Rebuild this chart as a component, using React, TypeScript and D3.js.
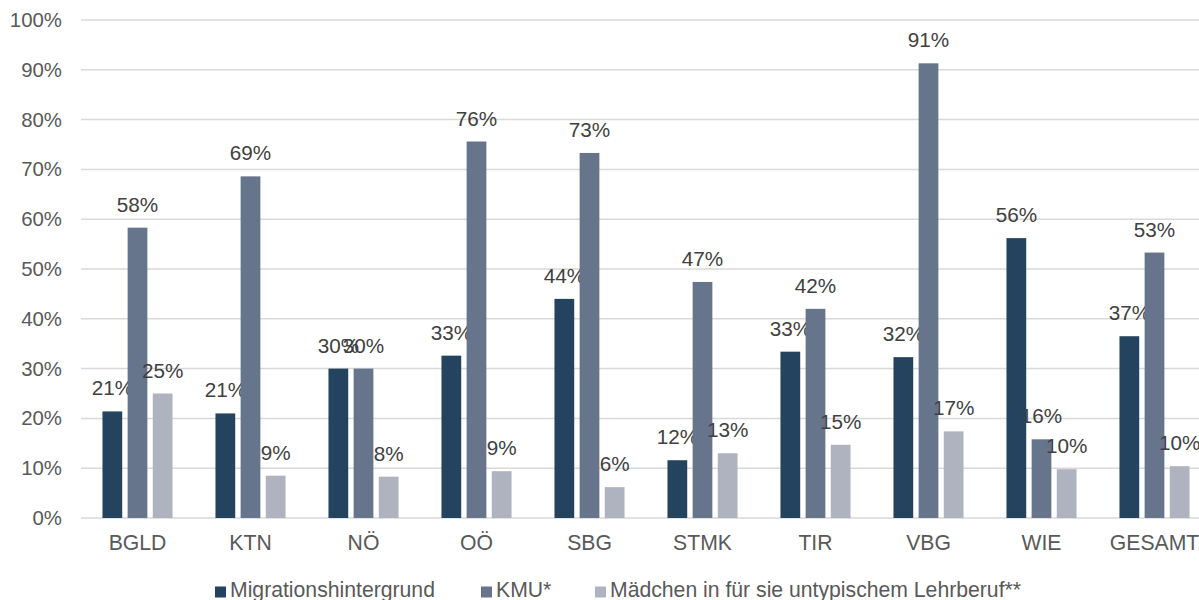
import React from "react";
import * as d3 from "d3";

const categories = ["BGLD", "KTN", "NÖ", "OÖ", "SBG", "STMK", "TIR", "VBG", "WIE", "GESAMT"];
const seriesNames = ["Migrationshintergrund", "KMU*", "Mädchen in für sie untypischem Lehrberuf**"];
const migration = [21.4, 21.0, 30.0, 32.6, 44.0, 11.6, 33.4, 32.3, 56.2, 36.5];
const kmu = [58.3, 68.6, 30.0, 75.6, 73.3, 47.4, 42.0, 91.3, 15.8, 53.3];
const maedchen = [25.0, 8.5, 8.3, 9.4, 6.2, 13.0, 14.7, 17.4, 9.8, 10.4];
const yTicks = [0, 10, 20, 30, 40, 50, 60, 70, 80, 90, 100];
const colors = ["#24435e", "#66758c", "#afb3c0"];

const W = 1199;
const H = 600;
const plotLeft = 81;
const plotRight = 81 + 1130;
const yTop = 20;
const yBottom = 518;
const font = "'Liberation Sans', Arial, sans-serif";
const legendX = [215, 481, 595];

export default function App() {
  const series = [migration, kmu, maedchen];
  const x0 = d3.scaleBand<string>().domain(categories).range([plotLeft, plotRight]).paddingInner(0.38).paddingOuter(0.19);
  const x1 = d3.scaleBand<number>().domain([0, 1, 2]).range([0, x0.bandwidth()]).paddingInner(0.215).paddingOuter(0);
  const y = d3.scaleLinear().domain([0, 100]).range([yBottom, yTop]);

  return (
    <svg width={W} height={H} style={{ position: "absolute", left: 0, top: 0 }} fontFamily={font}>
      <rect x={0} y={0} width={W} height={H} fill="#ffffff" />
      {yTicks.map((t) => (
        <g key={t}>
          <line x1={plotLeft} x2={W} y1={y(t)} y2={y(t)} stroke="#d9d9d9" strokeWidth={1.5} />
          <text x={62} y={y(t)} textAnchor="end" dominantBaseline="central" fontSize={20.4} fill="#595959">
            {t}%
          </text>
        </g>
      ))}
      {categories.map((c, i) => (
        <g key={c}>
          {series.map((s, j) => {
            const bx = (x0(c) as number) + (x1(j) as number);
            const bw = x1.bandwidth();
            const top = y(s[i]);
            return (
              <g key={j}>
                <rect x={bx} y={top} width={bw} height={yBottom - top} fill={colors[j]} />
                <text x={bx + bw / 2} y={top - 16} textAnchor="middle" fontSize={20.7} fill="#404040">
                  {Math.round(s[i])}%
                </text>
              </g>
            );
          })}
          <text x={(x0(c) as number) + x0.bandwidth() / 2} y={550} textAnchor="middle" fontSize={21.2} fill="#595959">
            {c}
          </text>
        </g>
      ))}
      {seriesNames.map((n, j) => (
        <g key={n}>
          <rect x={legendX[j]} y={586.5} width={11} height={11} fill={colors[j]} />
          <text x={legendX[j] + 15} y={597} fontSize={21.2} fill="#595959">
            {n}
          </text>
        </g>
      ))}
    </svg>
  );
}
